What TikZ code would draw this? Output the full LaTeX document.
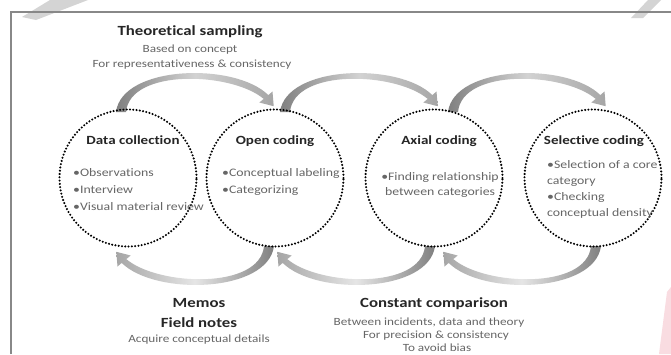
\documentclass[tikz,border=0pt]{standalone}
\usepackage{fontspec}
\setmainfont{Carlito}[FakeStretch=1.2, Ligatures=NoCommon]
\usetikzlibrary{calc,backgrounds}
\definecolor{txtgray}{HTML}{666666}
\definecolor{titlecol}{HTML}{262626}
\definecolor{framecol}{HTML}{888888}
\definecolor{wmgray}{HTML}{D4D4D4}
\definecolor{wmpink}{HTML}{F9DCE1}
\tikzset{
  toparrow/.pic={
    \path[left color=gray, right color=gray!70, middle color=gray!35]
      (-5,0) .. controls (1,-47) and (114,-50) .. (147.3,-16.9)
      -- (151.5,-20.5) -- (152.7,-5.8) -- (138.3,-9.5) -- (142.7,-13.1)
      .. controls (111,-40) and (9,-44) .. (5,0) -- cycle;
  },
  botarrow/.pic={
    \path[left color=gray!70, right color=gray, middle color=gray!20]
      (5,0) .. controls (-1,47) and (-114,50) .. (-147.3,16.9)
      -- (-151.5,20.5) -- (-152.7,5.8) -- (-138.3,9.5) -- (-142.7,13.1)
      .. controls (-111,40) and (-9,44) .. (-5,0) -- cycle;
  },
}
\begin{document}
\begin{tikzpicture}[x=1pt,y=-1pt,
  stage/.style={circle, minimum size=137pt, inner sep=0pt, draw=black,
    line width=2.3pt, dash pattern=on 0pt off 3.3pt, line cap=round},
  ctitle/.style={font=\fontsize{12.5}{15}\selectfont\bfseries, text=titlecol, anchor=base, inner sep=0pt},
  citem/.style={font=\fontsize{11.5}{14}\selectfont, text=txtgray, anchor=base west, inner sep=0pt},
  citemc/.style={font=\fontsize{11.5}{14}\selectfont, text=txtgray, anchor=base, inner sep=0pt},
  bigtitle/.style={font=\fontsize{14}{17}\selectfont\bfseries, text=titlecol, anchor=base, inner sep=0pt},
  subtext/.style={font=\fontsize{11}{13}\selectfont, text=txtgray, anchor=base, inner sep=0pt},
  frameline/.style={draw=framecol, line width=1.6pt}
]
\useasboundingbox (0,0) rectangle (671,354);
% frame
\coordinate (f0) at (11,354);
\coordinate (f1) at (11,12);
\coordinate (f2) at (671,12);

% stages
\node[stage] (dc) at (128,178) {};
\node[stage] (oc) at (275,178) {};
\node[stage] (ax) at (434,178) {};
\node[stage] (sc) at (593,178) {};

% arrows
\coordinate (a1) at ($(dc.center)+(-7,-66)$);
\coordinate (a2) at ($(oc.center)+(10,-66)$);
\coordinate (a3) at ($(ax.center)+(19,-66)$);
\coordinate (b1) at ($(oc.center)+(-6,68)$);
\coordinate (b2) at ($(ax.center)+(-4,68)$);
\coordinate (b3) at ($(sc.center)+(3,68)$);
\begin{pgfonlayer}{background}
\fill[white] (0,0) rectangle (671,354);
% watermark marks
\fill[wmgray] (50,0) -- (88,0) -- (36,20) -- (22,17) -- cycle;
\fill[wmgray] (648,0) -- (661,0) -- (643,18) -- (631,18) -- cycle;
\fill[wmpink] (667,292) -- (671,287) -- (671,354) -- (659,354) -- cycle;
\draw[frameline] (f0) -- (f1) -- (f2);
\pic at (a1) {toparrow};
\pic at (a2) {toparrow};
\pic at (a3) {toparrow};
\pic at (b1) {botarrow};
\pic at (b2) {botarrow};
\pic at (b3) {botarrow};
\end{pgfonlayer}

% circle texts
\node[ctitle] (dct) at (133,144.5) {Data collection};
\node[citem] (dc1) at (73,176.5) {•Observations};
\node[citem] (dc2) at (73,193.5) {•Interview};
\node[citem] (dc3) at (73,210.5) {•Visual material review};

\node[ctitle] (oct) at (275,144.5) {Open coding};
\node[citem] (oc1) at (222,176.5) {•Conceptual labeling};
\node[citem] (oc2) at (222,193.5) {•Categorizing};

\node[ctitle] (axt) at (439,144.5) {Axial coding};
\node[citemc] (ax1) at (440,180.5) {•Finding relationship};
\node[citemc] (ax2) at (440,195.5) {between categories};

\node[ctitle] (sct) at (594,144.5) {Selective coding};
\node[citem] (sc1) at (547,168.5) {•Selection of a core};
\node[citem] (sc2) at (547,184.5) {category};
\node[citem] (sc3) at (547,200.5) {•Checking};
\node[citem] (sc4) at (547,216.5) {conceptual density};

% top texts
\node[bigtitle] (ts) at (190,35) {Theoretical sampling};
\node[subtext] (ts1) at (190,52) {Based on concept};
\node[subtext] (ts2) at (192,67) {For representativeness \& consistency};

% bottom texts
\node[bigtitle] (mm) at (199,307) {Memos};
\node[bigtitle] (fn) at (199,327) {Field notes};
\node[subtext] (mm1) at (199,342) {Acquire conceptual details};

\node[bigtitle] (cc) at (434,307) {Constant comparison};
\node[subtext] (cc1) at (429,325) {Between incidents, data and theory};
\node[subtext] (cc2) at (436,338.5) {For precision \& consistency};
\node[subtext] (cc3) at (437,351.5) {To avoid bias};
\end{tikzpicture}
\end{document}
